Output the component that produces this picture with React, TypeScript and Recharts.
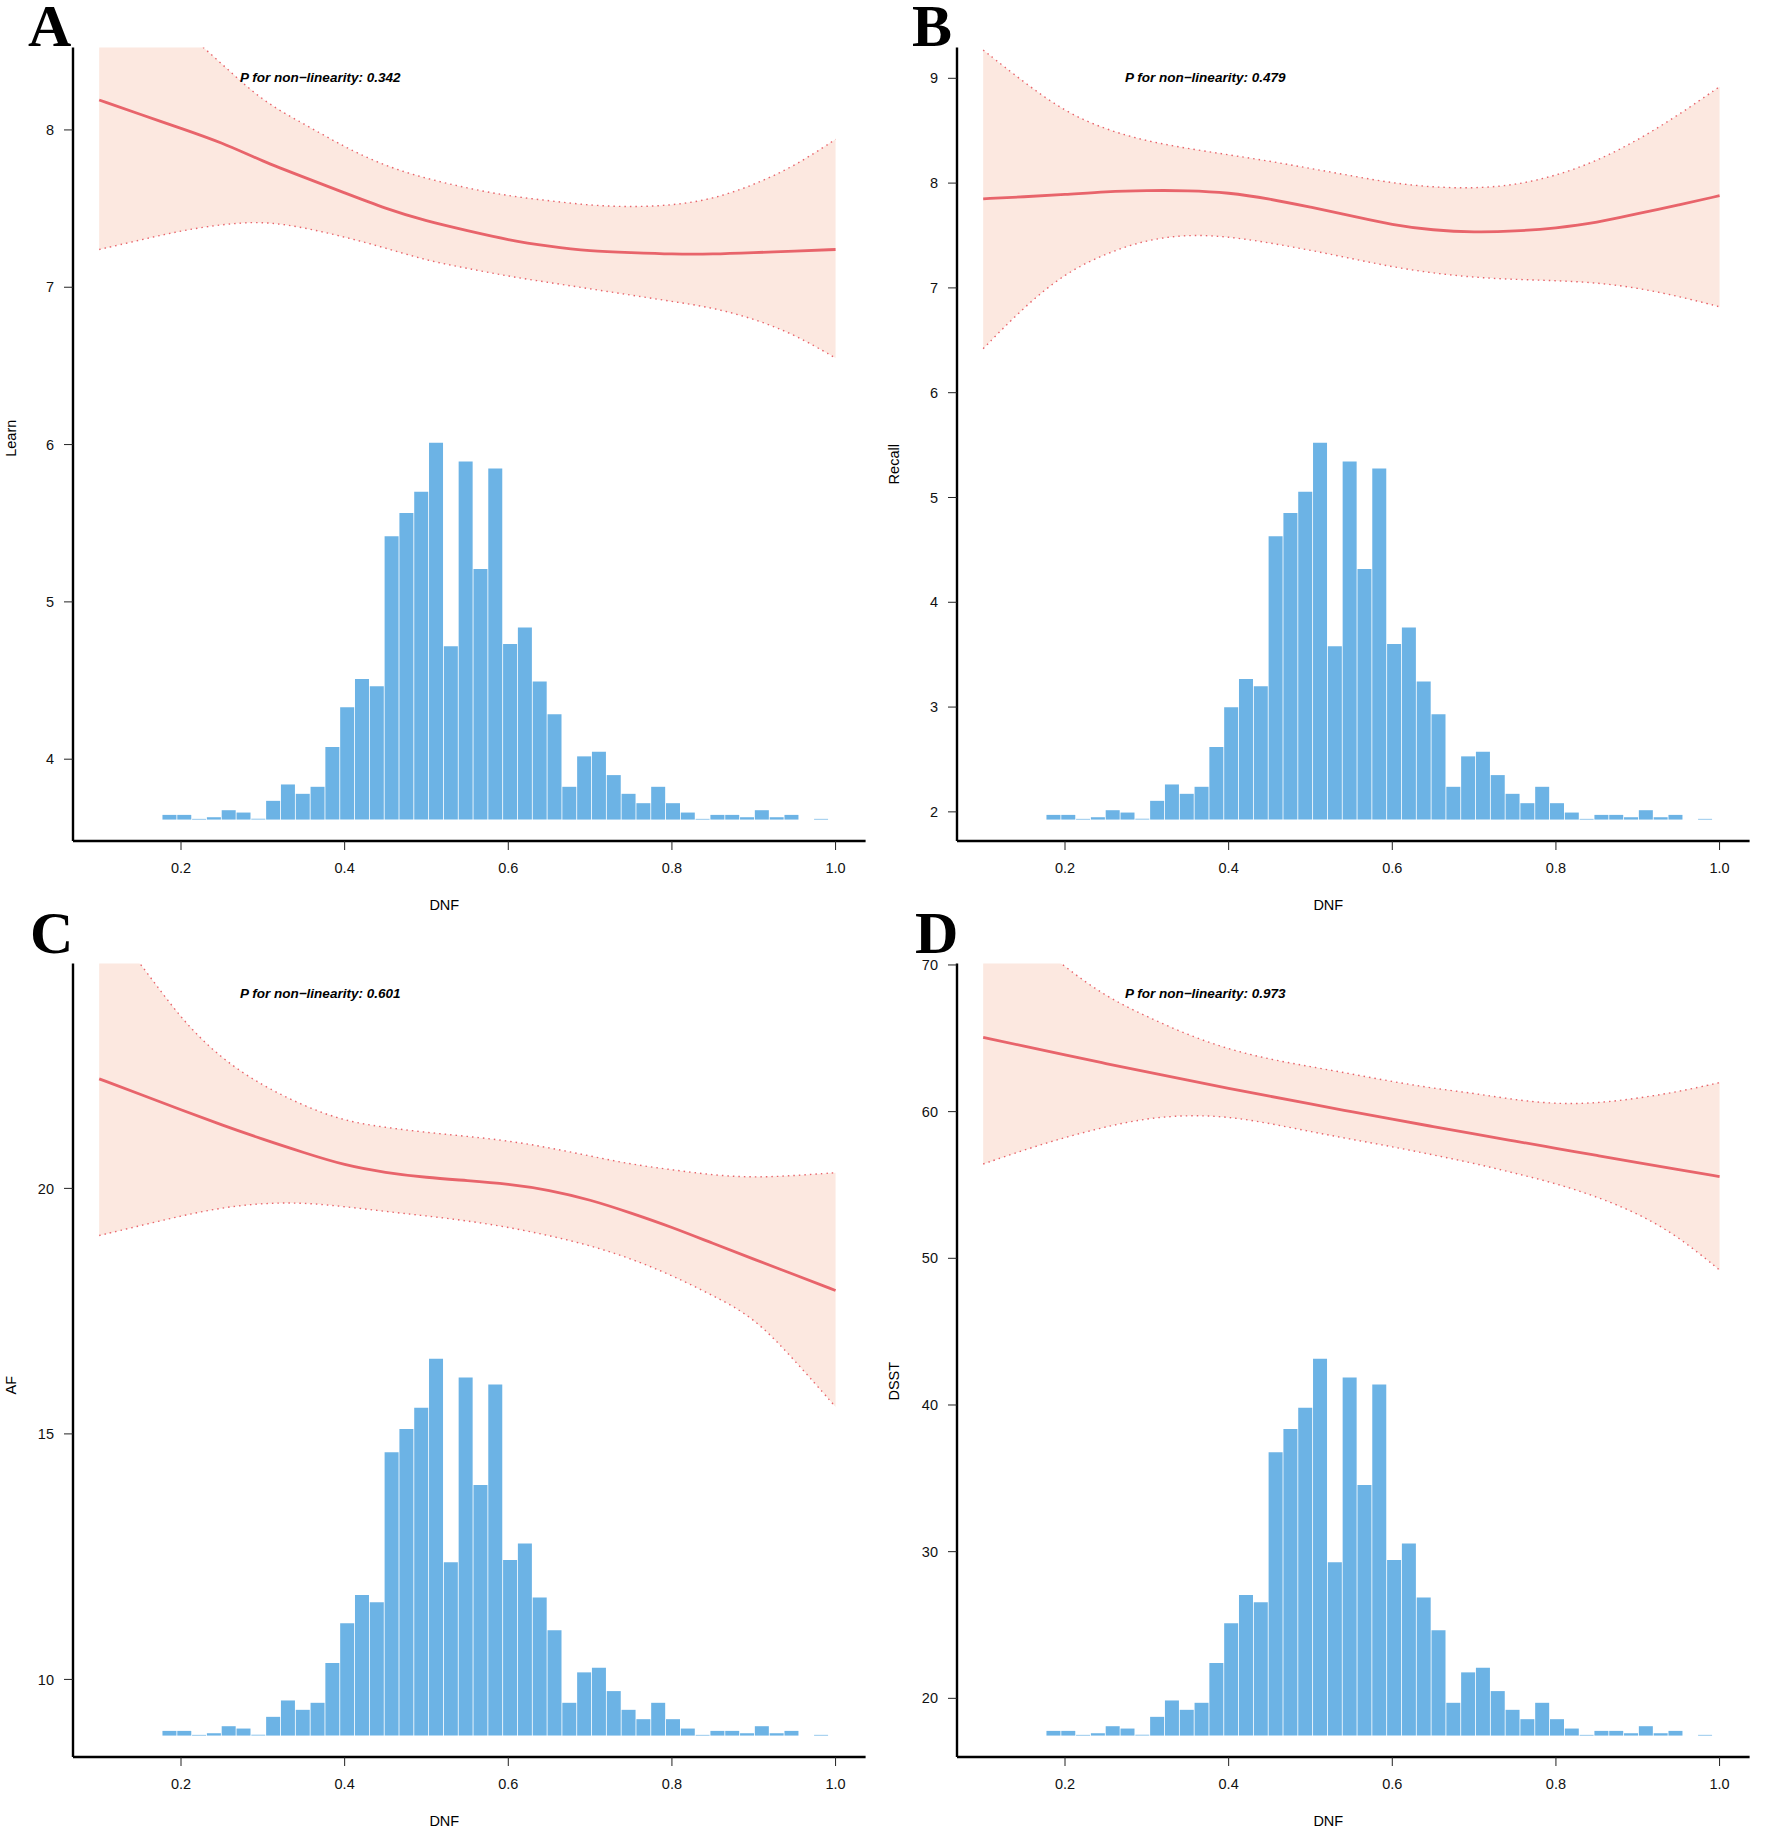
import React from 'react';
import { ComposedChart, XAxis, YAxis, Bar, Area, Line } from 'recharts';

const FONT = '"Liberation Sans", Arial, Helvetica, sans-serif';
const SERIF = '"Liberation Serif", "Times New Roman", serif';

// ---------- data ----------
const DNF = [0.1, 0.15, 0.2, 0.25, 0.3, 0.35, 0.4, 0.45, 0.5, 0.55, 0.6, 0.65, 0.7, 0.75, 0.8, 0.85, 0.9, 0.95, 1.0];
const X_TICKS = [0.2, 0.4, 0.6, 0.8, 1.0];

// histogram of DNF (45 bins, starting at 0.1766, width 0.0181)
const HIST_START = 0.1766;
const HIST_BIN = 0.0181;
const HIST_COUNTS = [2, 2, 0.3, 1, 4, 3, 0.3, 8, 15, 11, 14, 31, 48, 60, 57, 121, 131, 140, 161, 74, 153, 107, 150, 75, 82, 59, 45, 14, 27, 29, 19, 11, 7, 14, 7, 3, 0.3, 2, 2, 1, 4, 1, 2, 0, 0.3];

// A: Learn
const LEARN_FIT = [8.19, 8.10, 8.01, 7.92, 7.80, 7.70, 7.60, 7.50, 7.42, 7.36, 7.30, 7.26, 7.23, 7.22, 7.21, 7.21, 7.22, 7.23, 7.24];
const LEARN_UPPER = [9.15, 8.89, 8.65, 8.42, 8.18, 8.04, 7.89, 7.77, 7.69, 7.63, 7.58, 7.55, 7.52, 7.51, 7.52, 7.56, 7.65, 7.77, 7.94];
const LEARN_LOWER = [7.24, 7.30, 7.36, 7.40, 7.42, 7.38, 7.32, 7.25, 7.17, 7.12, 7.07, 7.03, 6.99, 6.95, 6.91, 6.87, 6.80, 6.70, 6.55];
const LEARN_TICKS = [4, 5, 6, 7, 8];

// B: Recall
const RECALL_FIT = [7.85, 7.87, 7.89, 7.92, 7.93, 7.93, 7.91, 7.85, 7.77, 7.69, 7.60, 7.55, 7.53, 7.54, 7.57, 7.62, 7.71, 7.79, 7.88];
const RECALL_UPPER = [9.27, 8.96, 8.68, 8.51, 8.40, 8.33, 8.27, 8.21, 8.14, 8.07, 8.00, 7.96, 7.95, 7.98, 8.07, 8.21, 8.41, 8.65, 8.92];
const RECALL_LOWER = [6.42, 6.82, 7.14, 7.33, 7.46, 7.51, 7.49, 7.43, 7.36, 7.28, 7.20, 7.14, 7.10, 7.08, 7.07, 7.05, 7.00, 6.92, 6.82];
const RECALL_TICKS = [2, 3, 4, 5, 6, 7, 8, 9];

// C: AF
const AF_FIT = [22.23, 21.92, 21.60, 21.29, 21.00, 20.73, 20.47, 20.32, 20.22, 20.16, 20.09, 19.97, 19.77, 19.50, 19.21, 18.88, 18.56, 18.24, 17.92];
const AF_UPPER = [25.6, 24.6, 23.44, 22.63, 22.09, 21.68, 21.37, 21.24, 21.14, 21.06, 20.97, 20.83, 20.66, 20.49, 20.38, 20.27, 20.22, 20.26, 20.32];
const AF_LOWER = [19.04, 19.24, 19.44, 19.61, 19.70, 19.71, 19.63, 19.53, 19.44, 19.34, 19.21, 19.04, 18.84, 18.57, 18.23, 17.82, 17.38, 16.50, 15.55];
const AF_TICKS = [10, 15, 20];

// D: DSST
const DSST_FIT = [65.07, 64.46, 63.86, 63.28, 62.70, 62.14, 61.59, 61.05, 60.52, 60.00, 59.48, 58.98, 58.48, 57.99, 57.50, 57.01, 56.52, 56.04, 55.57];
const DSST_UPPER = [74.0, 72.2, 69.84, 67.84, 66.48, 65.23, 64.25, 63.57, 63.07, 62.57, 62.05, 61.59, 61.25, 60.80, 60.52, 60.57, 60.91, 61.36, 61.98];
const DSST_LOWER = [56.43, 57.39, 58.25, 58.98, 59.55, 59.77, 59.66, 59.20, 58.64, 58.11, 57.61, 57.05, 56.48, 55.80, 55.11, 54.20, 53.07, 51.48, 49.20];
const DSST_TICKS = [20, 30, 40, 50, 60, 70];

// ---------- layout / style ----------
const X_MIN = 0.068;
const X_MAX = 1.0367;
const PLOT_W = 792.6;
const Y_AXIS_W = 73;
const PLOT_TOP = 47.5;
const HIST_BASE_FRAC = 0.027;
const HIST_TOP_FRAC = 0.502;

const BAR_COLOR = '#6CB3E5';
const BAND_COLOR = '#FCE8E0';
const LINE_COLOR = '#E8646B';

type PanelProps = {
  left: number;
  top: number;
  width: number;
  height: number;
  xAxisH: number;
  yLabel: string;
  yLabelX: number; // page x of y-label centre
  yLabelShift: number;
  fit: number[];
  upper: number[];
  lower: number[];
  yDomain: [number, number];
  yTicks: number[];
};

function Panel(p: PanelProps) {
  const curve = DNF.map((x, i) => ({ dnf: x, fit: p.fit[i], upper: p.upper[i], lower: p.lower[i] }));
  const hist = HIST_COUNTS.map((c, i) => ({ bin: String(i), count: c }));
  const histEnd = HIST_START + HIST_COUNTS.length * HIST_BIN;
  const pxPerUnit = PLOT_W / (X_MAX - X_MIN);
  const padL = (HIST_START - X_MIN) * pxPerUnit;
  const padR = (X_MAX - histEnd) * pxPerUnit;
  const maxCount = Math.max(...HIST_COUNTS);
  const histSpan = maxCount / (HIST_TOP_FRAC - HIST_BASE_FRAC);
  const histDomain: [number, number] = [-HIST_BASE_FRAC * histSpan, (1 - HIST_BASE_FRAC) * histSpan];
  const marginRight = p.width - Y_AXIS_W - PLOT_W;

  const xLabel = (props: any) => {
    const vb = props.viewBox || {};
    return (
      <text
        x={vb.x + vb.width / 2 - 25}
        y={vb.y + 68.5}
        textAnchor="middle"
        fontSize={14.5}
        fontFamily={FONT}
        fill="#000"
      >
        DNF
      </text>
    );
  };
  const yLabel = (props: any) => {
    const vb = props.viewBox || {};
    const x = p.yLabelX - p.left;
    const y = vb.y + vb.height / 2 + p.yLabelShift;
    return (
      <text
        x={x}
        y={y}
        transform={`rotate(-90 ${x} ${y})`}
        textAnchor="middle"
        dominantBaseline="central"
        fontSize={14.5}
        fontFamily={FONT}
        fill="#000"
      >
        {p.yLabel}
      </text>
    );
  };

  const tickStyle = { fill: '#111', fontSize: 14.5, fontFamily: FONT };

  return (
    <div style={{ position: 'absolute', left: p.left, top: p.top }}>
      <ComposedChart
        width={p.width}
        height={p.height}
        data={hist}
        margin={{ top: PLOT_TOP, right: marginRight, bottom: 0, left: 0 }}
        barCategoryGap={0.6}
        barGap={0}
      >
        <XAxis
          xAxisId="x"
          dataKey="dnf"
          type="number"
          domain={[X_MIN, X_MAX]}
          allowDataOverflow
          ticks={X_TICKS}
          interval={0}
          tickFormatter={(v: number) => v.toFixed(1)}
          height={p.xAxisH}
          axisLine={{ stroke: '#000', strokeWidth: 2.4 }}
          tickLine={{ stroke: '#222', strokeWidth: 1 }}
          tickSize={9}
          tickMargin={13}
          tick={tickStyle}
          label={xLabel}
        />
        <YAxis
          yAxisId="y"
          type="number"
          domain={p.yDomain}
          allowDataOverflow
          ticks={p.yTicks}
          interval={0}
          width={Y_AXIS_W}
          axisLine={{ stroke: '#000', strokeWidth: 2.4 }}
          tickLine={{ stroke: '#222', strokeWidth: 1 }}
          tickSize={9}
          tickMargin={10}
          tick={tickStyle}
          label={yLabel}
        />
        <XAxis xAxisId="h" dataKey="bin" type="category" hide height={0} padding={{ left: padL, right: padR }} />
        <YAxis yAxisId="h" type="number" domain={histDomain} allowDataOverflow hide width={0} />
        <Bar xAxisId="h" yAxisId="h" dataKey="count" fill={BAR_COLOR} isAnimationActive={false} />
        <Area
          data={curve}
          xAxisId="x"
          yAxisId="y"
          dataKey={(d: any) => [d.lower, d.upper]}
          type="basis"
          fill={BAND_COLOR}
          fillOpacity={1}
          stroke="none"
          isAnimationActive={false}
        />
        <Line
          data={curve}
          xAxisId="x"
          yAxisId="y"
          dataKey="upper"
          type="basis"
          stroke={LINE_COLOR}
          strokeWidth={1.4}
          strokeDasharray="1.5 4"
          dot={false}
          activeDot={false}
          isAnimationActive={false}
        />
        <Line
          data={curve}
          xAxisId="x"
          yAxisId="y"
          dataKey="lower"
          type="basis"
          stroke={LINE_COLOR}
          strokeWidth={1.4}
          strokeDasharray="1.5 4"
          dot={false}
          activeDot={false}
          isAnimationActive={false}
        />
        <Line
          data={curve}
          xAxisId="x"
          yAxisId="y"
          dataKey="fit"
          type="basis"
          stroke={LINE_COLOR}
          strokeWidth={2.8}
          dot={false}
          activeDot={false}
          isAnimationActive={false}
        />
      </ComposedChart>
    </div>
  );
}

const P_VALUES = ['0.342', '0.479', '0.601', '0.973'];

export default function App() {
  return (
    <div style={{ position: 'absolute', left: 0, top: 0, width: 1785, height: 1830, background: '#fff' }}>
      <Panel
        left={0} top={0} width={890} height={915} xAxisH={74}
        yLabel="Learn" yLabelX={11} yLabelShift={-6}
        fit={LEARN_FIT} upper={LEARN_UPPER} lower={LEARN_LOWER}
        yDomain={[3.48, 8.524]} yTicks={LEARN_TICKS}
      />
      <Panel
        left={884} top={0} width={901} height={915} xAxisH={74}
        yLabel="Recall" yLabelX={894} yLabelShift={20}
        fit={RECALL_FIT} upper={RECALL_UPPER} lower={RECALL_LOWER}
        yDomain={[1.722, 9.294]} yTicks={RECALL_TICKS}
      />
      <Panel
        left={0} top={916} width={890} height={914} xAxisH={73}
        yLabel="AF" yLabelX={11} yLabelShift={25}
        fit={AF_FIT} upper={AF_UPPER} lower={AF_LOWER}
        yDomain={[8.42, 24.58]} yTicks={AF_TICKS}
      />
      <Panel
        left={884} top={916} width={901} height={914} xAxisH={73}
        yLabel="DSST" yLabelX={894} yLabelShift={21}
        fit={DSST_FIT} upper={DSST_UPPER} lower={DSST_LOWER}
        yDomain={[16.0, 70.1]} yTicks={DSST_TICKS}
      />
      <svg
        width={1785}
        height={1830}
        style={{ position: 'absolute', left: 0, top: 0, pointerEvents: 'none' }}
      >
        <g fontFamily={SERIF} fontWeight="bold" fontSize={60} fill="#000">
          <text x={28} y={46}>A</text>
          <text x={912} y={46}>B</text>
          <text x={30} y={953}>C</text>
          <text x={915} y={953}>D</text>
        </g>
        <g fontFamily={FONT} fontWeight="bold" fontStyle="italic" fontSize={13.5} fill="#000">
          <text x={240} y={82}>{`P for non\u2212linearity: ${P_VALUES[0]}`}</text>
          <text x={1125} y={82}>{`P for non\u2212linearity: ${P_VALUES[1]}`}</text>
          <text x={240} y={998}>{`P for non\u2212linearity: ${P_VALUES[2]}`}</text>
          <text x={1125} y={998}>{`P for non\u2212linearity: ${P_VALUES[3]}`}</text>
        </g>
      </svg>
    </div>
  );
}
